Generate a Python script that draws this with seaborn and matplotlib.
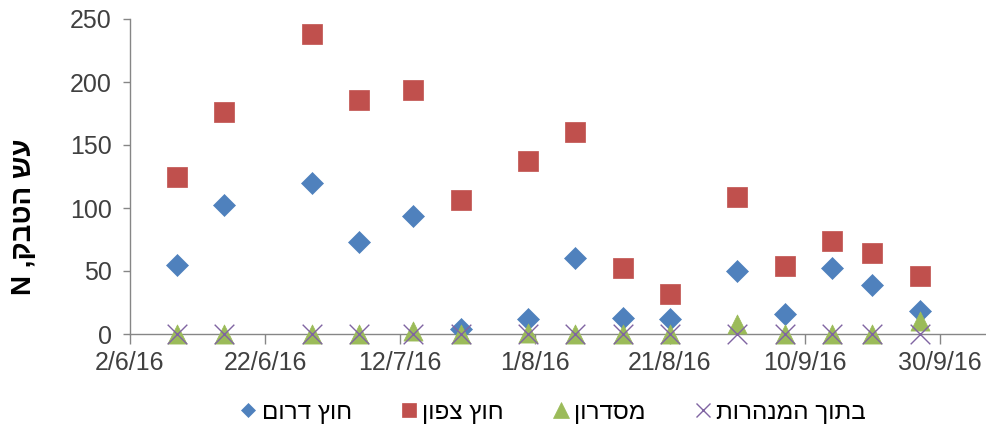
import numpy as np
import pandas as pd
import matplotlib
matplotlib.use("Agg")
import matplotlib.pyplot as plt
from matplotlib.lines import Line2D
import seaborn as sns

# ---- data ----
dates = ["2016-06-09", "2016-06-16", "2016-06-29", "2016-07-06", "2016-07-14",
         "2016-07-21", "2016-07-31", "2016-08-07", "2016-08-14", "2016-08-21",
         "2016-08-31", "2016-09-07", "2016-09-14", "2016-09-20", "2016-09-27"]
south = [55, 102, 120, 73, 94, 4, 12, 60, 13, 12, 50, 16, 52, 39, 18]
north = [125, 176, 238, 186, 194, 106, 137, 160, 52, 32, 109, 54, 74, 64, 46]
corridor = [0, 0, 0, 0, 2, 0, 1, 0, 0, 0, 8, 0, 0, 0, 10]
inside = [0, 0, 0, 0, 0, 0, 0, 0, 0, 0, 0, 0, 0, 0, 0]
series_names = ["חוץ דרום", "חוץ צפון", "מסדרון", "בתוך המנהרות"]
y_label = "עש הטבק, N"
x_ticks = ["2016-06-02", "2016-06-22", "2016-07-12", "2016-08-01",
           "2016-08-21", "2016-09-10", "2016-09-30"]
y_ticks = [0, 50, 100, 150, 200, 250]

def rtl(s):
    # matplotlib has no bidi: reverse for visual right-to-left order
    return s[::-1]

sns.set_theme(style="white")
plt.rcParams["font.family"] = ["Liberation Sans", "DejaVu Sans"]

fig = plt.figure(figsize=(9.86, 4.37), dpi=100)
ax = fig.add_axes([130/986, 1-334/437, 855/986, 315/437])

df = pd.DataFrame({"date": pd.to_datetime(dates), "south": south, "north": north,
                   "corridor": corridor, "inside": inside})

colors = ["#4F81BD", "#C0504D", "#9BBB59", "#8064A2"]
specs = [("south", "D", 125, colors[0]), ("north", "s", 200, colors[1]),
         ("corridor", "^", 190, colors[2]), ("inside", "x", 200, colors[3])]
for col, mk, s, c in specs:
    if mk == "x":
        sns.scatterplot(data=df, x="date", y=col, marker=mk, s=s, color=c,
                        linewidth=1.0, ax=ax, clip_on=False, zorder=5)
    else:
        sns.scatterplot(data=df, x="date", y=col, marker=mk, s=s, color=c,
                        edgecolor=c, linewidth=0.5, ax=ax, clip_on=False, zorder=4)

start = pd.Timestamp("2016-06-02")
ax.set_xlim(start, start + pd.Timedelta(days=126.7))
ax.set_ylim(0, 250)
ax.set_yticks(y_ticks)
xt = pd.to_datetime(x_ticks)
ax.set_xticks(xt)
ax.set_xticklabels([f"{d.day}/{d.month}/{d.strftime('%y')}" for d in xt])

for side in ["top", "right"]:
    ax.spines[side].set_visible(False)
for side in ["left", "bottom"]:
    ax.spines[side].set_color("#868686")
    ax.spines[side].set_linewidth(1.0)

ax.tick_params(axis="both", which="both", direction="out", color="#868686",
               labelsize=18, labelcolor="#404040", width=1.0)
ax.tick_params(axis="x", length=7, pad=5, bottom=True)
ax.tick_params(axis="y", length=5, pad=8, left=True)

ax.set_xlabel("")
ax.set_ylabel(rtl(y_label), fontsize=20, fontweight="bold", color="black")
ax.yaxis.set_label_coords(-0.109, 0.371)

handles = [Line2D([], [], marker=m, color=c, linestyle="none",
                  markersize=ms, markeredgewidth=mew)
           for (m, c, ms, mew) in [("D", colors[0], 7, 0.5), ("s", colors[1], 10, 0.5),
                                    ("^", colors[2], 11, 0.5), ("x", colors[3], 10, 1.0)]]
leg = fig.legend(handles, [rtl(n) for n in series_names], loc="center",
                 bbox_to_anchor=(553/986, 1-413/437), ncol=4, frameon=False,
                 fontsize=17.5, handlelength=0.7, handletextpad=0.2,
                 columnspacing=2.0)
for t in leg.get_texts():
    t.set_color("black")

fig.savefig("out.png", dpi=100)
